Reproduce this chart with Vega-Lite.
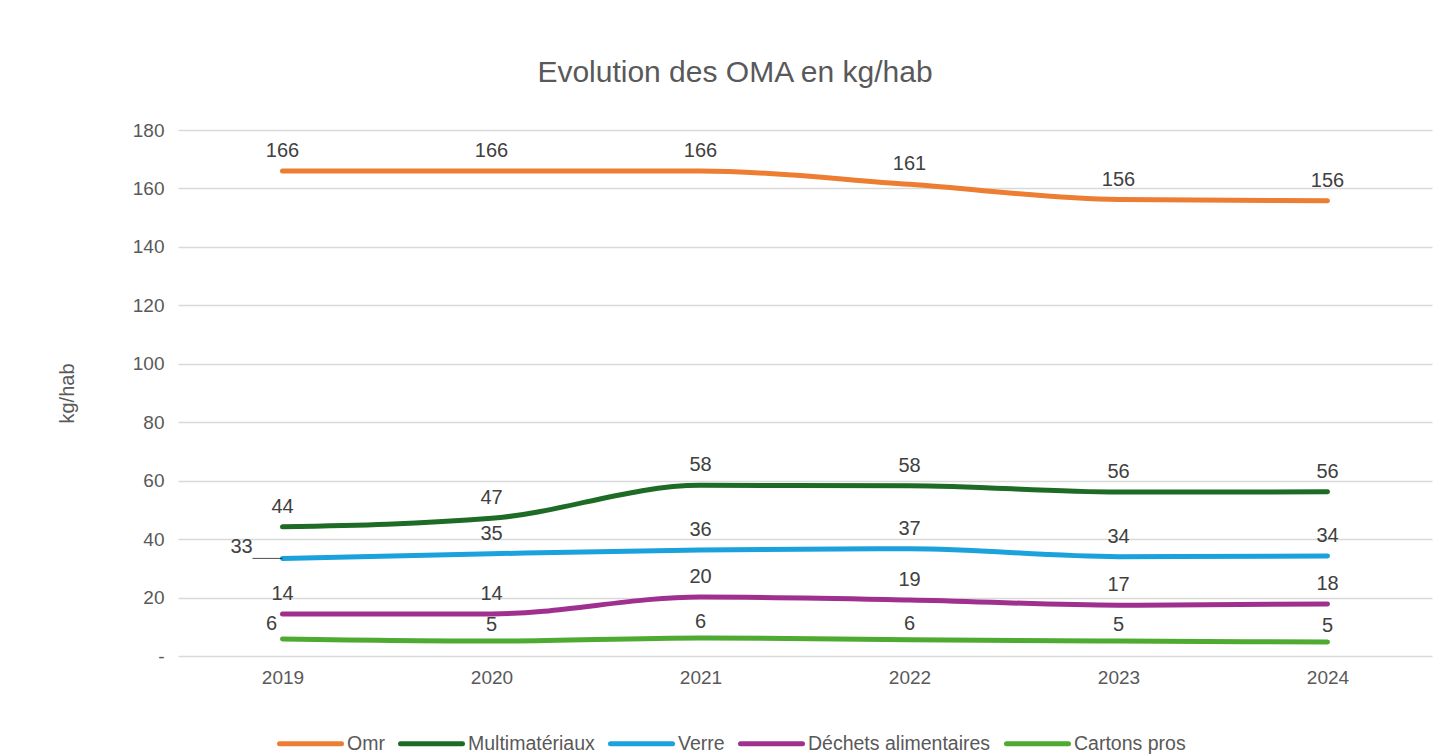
{
  "$schema": "https://vega.github.io/schema/vega-lite/v6.json",
  "width": 1254,
  "height": 526,
  "autosize": {"type": "none"},
  "padding": {"left": 178, "top": 130, "right": 22, "bottom": 100},
  "background": "white",
  "config": {
    "font": "Liberation Sans",
    "view": {"stroke": null}
  },
  "title": {
    "text": "Evolution des OMA en kg/hab",
    "fontSize": 30,
    "fontWeight": "normal",
    "color": "#595959",
    "font": "Liberation Sans",
    "anchor": "middle",
    "dx": -70,
    "offset": 33
  },
  "data": {
    "values": [
      {"annee": "2019", "serie": "Omr", "valeur": 166.0},
      {"annee": "2020", "serie": "Omr", "valeur": 166.0},
      {"annee": "2021", "serie": "Omr", "valeur": 166.0},
      {"annee": "2022", "serie": "Omr", "valeur": 161.4},
      {"annee": "2023", "serie": "Omr", "valeur": 156.2},
      {"annee": "2024", "serie": "Omr", "valeur": 155.8},
      {"annee": "2019", "serie": "Multimatériaux", "valeur": 44.2},
      {"annee": "2020", "serie": "Multimatériaux", "valeur": 47.1},
      {"annee": "2021", "serie": "Multimatériaux", "valeur": 58.4},
      {"annee": "2022", "serie": "Multimatériaux", "valeur": 58.3},
      {"annee": "2023", "serie": "Multimatériaux", "valeur": 56.1},
      {"annee": "2024", "serie": "Multimatériaux", "valeur": 56.2},
      {"annee": "2019", "serie": "Verre", "valeur": 33.4},
      {"annee": "2020", "serie": "Verre", "valeur": 35.0},
      {"annee": "2021", "serie": "Verre", "valeur": 36.3},
      {"annee": "2022", "serie": "Verre", "valeur": 36.7},
      {"annee": "2023", "serie": "Verre", "valeur": 34.0},
      {"annee": "2024", "serie": "Verre", "valeur": 34.2},
      {"annee": "2019", "serie": "Déchets alimentaires", "valeur": 14.4},
      {"annee": "2020", "serie": "Déchets alimentaires", "valeur": 14.4},
      {"annee": "2021", "serie": "Déchets alimentaires", "valeur": 20.2},
      {"annee": "2022", "serie": "Déchets alimentaires", "valeur": 19.2},
      {"annee": "2023", "serie": "Déchets alimentaires", "valeur": 17.4},
      {"annee": "2024", "serie": "Déchets alimentaires", "valeur": 17.8},
      {"annee": "2019", "serie": "Cartons pros", "valeur": 5.8},
      {"annee": "2020", "serie": "Cartons pros", "valeur": 5.1},
      {"annee": "2021", "serie": "Cartons pros", "valeur": 6.2},
      {"annee": "2022", "serie": "Cartons pros", "valeur": 5.6},
      {"annee": "2023", "serie": "Cartons pros", "valeur": 5.1},
      {"annee": "2024", "serie": "Cartons pros", "valeur": 4.8}
    ]
  },
  "encoding": {
    "x": {
      "field": "annee",
      "type": "ordinal",
      "scale": {"type": "point", "padding": 0.5},
      "axis": {
        "title": null,
        "labelAngle": 0,
        "labelFontSize": 19,
        "labelColor": "#595959",
        "labelPadding": 12,
        "ticks": false,
        "domain": false,
        "grid": false
      }
    },
    "y": {
      "field": "valeur",
      "type": "quantitative",
      "scale": {"domain": [0, 180]},
      "axis": {
        "title": "kg/hab",
        "titleFontSize": 20,
        "titleFontWeight": "normal",
        "titleColor": "#595959",
        "titlePadding": 55,
        "values": [0, 20, 40, 60, 80, 100, 120, 140, 160, 180],
        "labelExpr": "datum.value == 0 ? '-\u00a0\u00a0\u00a0\u00a0\u00a0' : datum.label",
        "labelFontSize": 19,
        "labelColor": "#595959",
        "labelPadding": 14,
        "ticks": false,
        "domain": false,
        "grid": true,
        "gridColor": "#D9D9D9",
        "gridWidth": 1.5
      }
    }
  },
  "layer": [
    {
      "mark": {"type": "line", "strokeWidth": 5, "strokeCap": "round", "strokeJoin": "round", "interpolate": "monotone"},
      "encoding": {
        "color": {
          "field": "serie",
          "type": "nominal",
          "sort": ["Omr", "Multimatériaux", "Verre", "Déchets alimentaires", "Cartons pros"],
          "scale": {
            "domain": ["Omr", "Multimatériaux", "Verre", "Déchets alimentaires", "Cartons pros"],
            "range": ["#ED7D31", "#1E6B25", "#1BA1DC", "#A0308F", "#4EAA31"]
          },
          "legend": {
            "title": null,
            "orient": "none",
            "legendX": 99,
            "legendY": 580,
            "direction": "horizontal",
            "symbolType": "stroke",
            "symbolSize": 3844,
            "symbolStrokeWidth": 5,
            "labelFontSize": 19.5,
            "labelColor": "#595959",
            "labelOffset": 3,
            "columnPadding": 5,
            "labelLimit": 300,
            "encode": {"symbols": {"update": {"strokeCap": {"value": "round"}}}}
          }
        }
      }
    },
    {
      "transform": [{"filter": "datum.serie != 'Cartons pros' && !(datum.serie == 'Verre' && datum.annee == '2019')"}],
      "mark": {"type": "text", "fontSize": 20, "color": "#404040", "dy": -20, "baseline": "middle"},
      "encoding": {
        "text": {"field": "valeur", "type": "quantitative", "format": ".0f"}
      }
    },
    {
      "transform": [{"filter": "datum.serie == 'Cartons pros' && datum.annee != '2019'"}],
      "mark": {"type": "text", "fontSize": 20, "color": "#404040", "dy": -16, "baseline": "middle"},
      "encoding": {
        "text": {"field": "valeur", "type": "quantitative", "format": ".0f"}
      }
    },
    {
      "transform": [{"filter": "datum.serie == 'Cartons pros' && datum.annee == '2019'"}],
      "mark": {"type": "text", "fontSize": 20, "color": "#404040", "dx": -11, "dy": -15, "baseline": "middle"},
      "encoding": {
        "text": {"field": "valeur", "type": "quantitative", "format": ".0f"}
      }
    },
    {
      "transform": [{"filter": "datum.serie == 'Verre' && datum.annee == '2019'"}],
      "mark": {"type": "text", "fontSize": 20, "color": "#404040", "dx": -41, "dy": -11, "baseline": "middle"},
      "encoding": {
        "text": {"field": "valeur", "type": "quantitative", "format": ".0f"}
      }
    },
    {
      "transform": [{"filter": "datum.serie == 'Verre' && datum.annee == '2019'"}],
      "mark": {"type": "tick", "orient": "horizontal", "size": 30, "thickness": 1, "color": "#000000", "xOffset": -15},
      "encoding": {}
    }
  ]
}
